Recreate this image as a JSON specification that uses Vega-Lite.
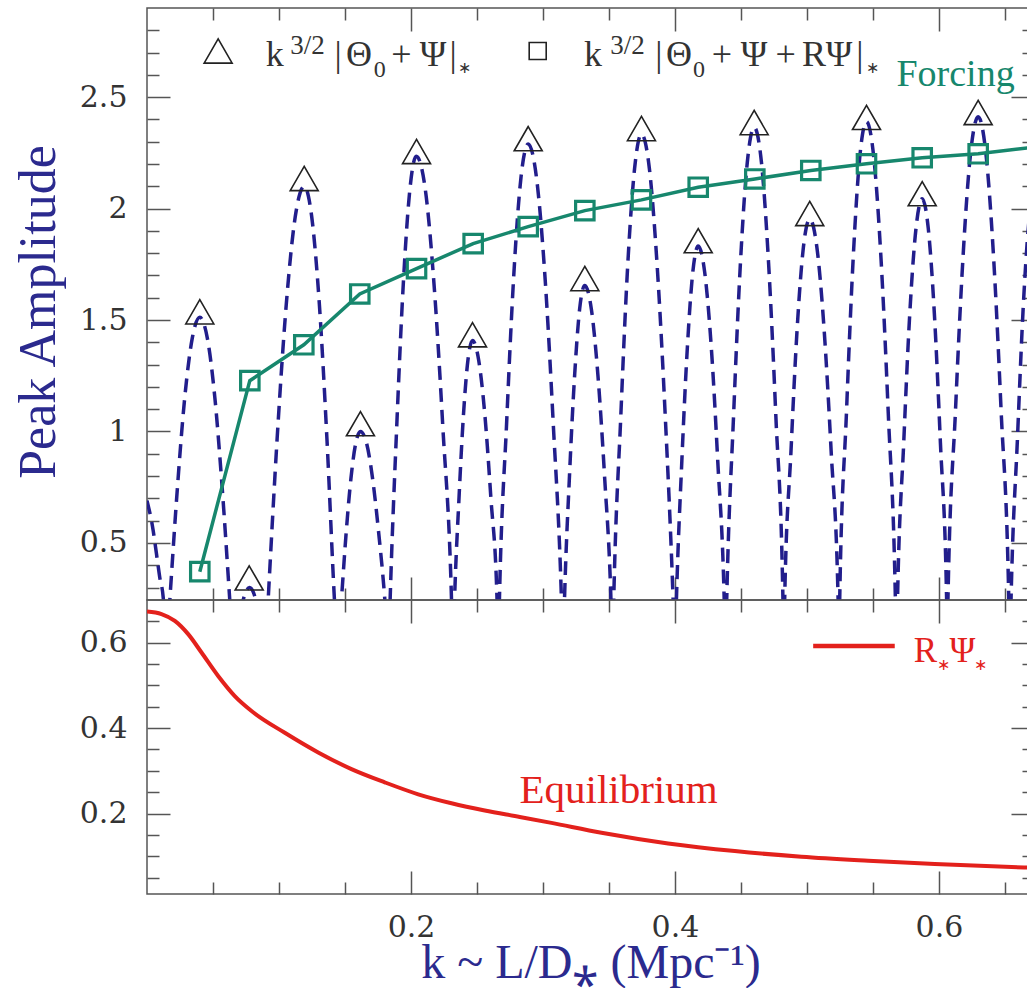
{
  "$schema": "https://vega.github.io/schema/vega-lite/v6.json",
  "padding": {"left": 11, "top": 6, "right": 0, "bottom": 0},
  "background": "white",
  "spacing": 0,
  "bounds": "flush",
  "config": {
    "view": {"stroke": "#555555", "strokeWidth": 1.5},
    "axis": {"grid": false, "domain": false, "tickColor": "#555555", "tickWidth": 1.5, "labels": false, "labelFont": "DejaVu Serif", "labelFontSize": 30, "labelColor": "#333333", "format": "~g"}
  },
  "datasets": {
    "curve": [
      {"k":0.0,"v":0.69},{"k":0.0047,"v":0.555},{"k":0.0072,"v":0.45},{"k":0.0097,"v":0.344},{"k":0.0123,"v":0.254},{"k":0.0146,"v":0},
      {"k":0.0173,"v":0.245},{"k":0.023,"v":0.744},{"k":0.0286,"v":1.152},{"k":0.0343,"v":1.419},{"k":0.04,"v":1.512},{"k":0.0457,"v":1.419},{"k":0.0514,"v":1.152},{"k":0.057,"v":0.744},{"k":0.0627,"v":0.245},{"k":0.0654,"v":0},
      {"k":0.0686,"v":0.115},{"k":0.0716,"v":0.212},{"k":0.0746,"v":0.277},{"k":0.0777,"v":0.3},{"k":0.0807,"v":0.277},{"k":0.0837,"v":0.212},{"k":0.0867,"v":0.115},{"k":0.0896,"v":0},
      {"k":0.0918,"v":0.245},{"k":0.0986,"v":0.969},{"k":0.1055,"v":1.569},{"k":0.1123,"v":1.963},{"k":0.1191,"v":2.1},{"k":0.1248,"v":1.963},{"k":0.1306,"v":1.569},{"k":0.1363,"v":0.969},{"k":0.142,"v":0.245},{"k":0.1443,"v":0},
      {"k":0.1473,"v":0.245},{"k":0.1509,"v":0.547},{"k":0.1545,"v":0.789},{"k":0.1581,"v":0.946},{"k":0.1617,"v":1.0},{"k":0.1664,"v":0.946},{"k":0.1709,"v":0.789},{"k":0.1755,"v":0.547},{"k":0.1802,"v":0.245},{"k":0.183,"v":0},
      {"k":0.1842,"v":0.245},{"k":0.1892,"v":1.023},{"k":0.1942,"v":1.665},{"k":0.1992,"v":2.088},{"k":0.204,"v":2.235},{"k":0.2108,"v":2.088},{"k":0.2174,"v":1.665},{"k":0.2241,"v":1.023},{"k":0.2307,"v":0.245},{"k":0.2318,"v":0},
      {"k":0.233,"v":0.245},{"k":0.2364,"v":0.704},{"k":0.2398,"v":1.079},{"k":0.2432,"v":1.323},{"k":0.2466,"v":1.408},{"k":0.2512,"v":1.323},{"k":0.2559,"v":1.079},{"k":0.2605,"v":0.704},{"k":0.2652,"v":0.245},{"k":0.2661,"v":0},
      {"k":0.267,"v":0.245},{"k":0.2725,"v":1.044},{"k":0.2779,"v":1.704},{"k":0.2833,"v":2.138},{"k":0.2888,"v":2.29},{"k":0.2951,"v":2.138},{"k":0.3014,"v":1.704},{"k":0.3077,"v":1.044},{"k":0.314,"v":0.245},{"k":0.3152,"v":0},
      {"k":0.3163,"v":0.245},{"k":0.3201,"v":0.804},{"k":0.324,"v":1.254},{"k":0.3278,"v":1.551},{"k":0.3317,"v":1.655},{"k":0.3366,"v":1.551},{"k":0.3416,"v":1.254},{"k":0.3466,"v":0.804},{"k":0.3515,"v":0.245},{"k":0.3527,"v":0},
      {"k":0.3536,"v":0.245},{"k":0.3589,"v":1.061},{"k":0.3641,"v":1.735},{"k":0.3694,"v":2.18},{"k":0.3746,"v":2.335},{"k":0.3806,"v":2.18},{"k":0.3866,"v":1.735},{"k":0.3927,"v":1.061},{"k":0.3986,"v":0.245},{"k":0.4,"v":0},
      {"k":0.4011,"v":0.245},{"k":0.4052,"v":0.868},{"k":0.4094,"v":1.379},{"k":0.4135,"v":1.715},{"k":0.4176,"v":1.832},{"k":0.4225,"v":1.715},{"k":0.4275,"v":1.379},{"k":0.4324,"v":0.868},{"k":0.4373,"v":0.245},{"k":0.4383,"v":0},
      {"k":0.4392,"v":0.245},{"k":0.4444,"v":1.072},{"k":0.4496,"v":1.757},{"k":0.4548,"v":2.208},{"k":0.46,"v":2.365},{"k":0.4655,"v":2.208},{"k":0.4709,"v":1.757},{"k":0.4764,"v":1.072},{"k":0.4818,"v":0.245},{"k":0.4824,"v":0},
      {"k":0.4831,"v":0.245},{"k":0.4879,"v":0.913},{"k":0.4926,"v":1.465},{"k":0.4973,"v":1.827},{"k":0.5021,"v":1.953},{"k":0.5075,"v":1.827},{"k":0.5129,"v":1.465},{"k":0.5183,"v":0.913},{"k":0.5236,"v":0.245},{"k":0.5242,"v":0},
      {"k":0.5248,"v":0.245},{"k":0.5299,"v":1.081},{"k":0.535,"v":1.775},{"k":0.54,"v":2.231},{"k":0.5451,"v":2.39},{"k":0.5506,"v":2.231},{"k":0.5561,"v":1.775},{"k":0.5616,"v":1.081},{"k":0.567,"v":0.245},{"k":0.5678,"v":0},
      {"k":0.5686,"v":0.245},{"k":0.5733,"v":0.949},{"k":0.5779,"v":1.53},{"k":0.5826,"v":1.911},{"k":0.5873,"v":2.044},{"k":0.5919,"v":1.911},{"k":0.5965,"v":1.53},{"k":0.6011,"v":0.949},{"k":0.6058,"v":0.245},{"k":0.6063,"v":0},
      {"k":0.6068,"v":0.245},{"k":0.6125,"v":1.091},{"k":0.6183,"v":1.79},{"k":0.624,"v":2.251},{"k":0.6297,"v":2.412},{"k":0.6355,"v":2.251},{"k":0.6413,"v":1.79},{"k":0.6471,"v":1.091},{"k":0.6529,"v":0.245},{"k":0.6537,"v":0},
      {"k":0.6546,"v":0.245},{"k":0.6595,"v":0.973},{"k":0.664,"v":1.576},{"k":0.6686,"v":1.972},{"k":0.6731,"v":2.11}
    ],
    "forcing": [
      {"k":0.04,"v":0.371},{"k":0.0779,"v":1.228},{"k":0.1188,"v":1.389},{"k":0.1612,"v":1.617},{"k":0.2042,"v":1.731},{"k":0.2471,"v":1.843},{"k":0.2888,"v":1.919},{"k":0.3317,"v":1.991},{"k":0.3746,"v":2.039},{"k":0.4176,"v":2.096},{"k":0.4605,"v":2.133},{"k":0.5029,"v":2.171},{"k":0.5451,"v":2.201},{"k":0.5873,"v":2.228},{"k":0.6297,"v":2.246},{"k":0.672,"v":2.276}
    ],
    "forcingPts": [
      {"k":0.04,"v":0.371},{"k":0.0779,"v":1.228},{"k":0.1188,"v":1.389},{"k":0.1612,"v":1.617},{"k":0.2042,"v":1.731},{"k":0.2471,"v":1.843},{"k":0.2888,"v":1.919},{"k":0.3317,"v":1.991},{"k":0.3746,"v":2.039},{"k":0.4176,"v":2.096},{"k":0.4605,"v":2.133},{"k":0.5029,"v":2.171},{"k":0.5451,"v":2.201},{"k":0.5873,"v":2.228},{"k":0.6297,"v":2.246}
    ],
    "peaks": [
      {"k":0.04,"v":1.537},{"k":0.0774,"v":0.343},{"k":0.1191,"v":2.135},{"k":0.1617,"v":1.035},{"k":0.2042,"v":2.256},{"k":0.2466,"v":1.434},{"k":0.2888,"v":2.314},{"k":0.3317,"v":1.686},{"k":0.3746,"v":2.359},{"k":0.4176,"v":1.856},{"k":0.46,"v":2.386},{"k":0.5021,"v":1.978},{"k":0.5451,"v":2.409},{"k":0.5873,"v":2.067},{"k":0.6297,"v":2.431}
    ],
    "eq": [
      {"k":0,"v":0.673},{"k":0.011,"v":0.667},{"k":0.0211,"v":0.651},{"k":0.0312,"v":0.62},{"k":0.0413,"v":0.577},{"k":0.0539,"v":0.522},{"k":0.0665,"v":0.475},{"k":0.0792,"v":0.44},{"k":0.1044,"v":0.389},{"k":0.1297,"v":0.343},{"k":0.1549,"v":0.304},{"k":0.1801,"v":0.273},{"k":0.2055,"v":0.245},{"k":0.2307,"v":0.224},{"k":0.2559,"v":0.207},{"k":0.2824,"v":0.192},{"k":0.3064,"v":0.178},{"k":0.3443,"v":0.155},{"k":0.3948,"v":0.13},{"k":0.4453,"v":0.112},{"k":0.4958,"v":0.0987},{"k":0.5464,"v":0.0894},{"k":0.5968,"v":0.0816},{"k":0.6645,"v":0.0737},{"k":0.672,"v":0.073}
    ],
    "legBig": [
      {"k":0.0968,"v":2.64,"t":"k"},{"k":0.1448,"v":2.64,"t":"|"},{"k":0.1606,"v":2.64,"t":"Θ"},{"k":0.1928,"v":2.64,"t":"+"},{"k":0.2167,"v":2.64,"t":"Ψ"},{"k":0.232,"v":2.64,"t":"|"},
      {"k":0.3379,"v":2.64,"t":"k"},{"k":0.3877,"v":2.64,"t":"|"},{"k":0.403,"v":2.64,"t":"Θ"},{"k":0.4356,"v":2.64,"t":"+"},{"k":0.4598,"v":2.64,"t":"Ψ"},{"k":0.4839,"v":2.64,"t":"+"},{"k":0.5053,"v":2.64,"t":"R"},{"k":0.5242,"v":2.64,"t":"Ψ"},{"k":0.54,"v":2.64,"t":"|"}
    ],
    "legSup": [
      {"k":0.1216,"v":2.694,"t":"3/2"},{"k":0.364,"v":2.694,"t":"3/2"}
    ],
    "legSub": [
      {"k":0.1764,"v":2.59,"t":"0"},{"k":0.4182,"v":2.59,"t":"0"}
    ],
    "legStar": [
      {"k":0.2405,"v":2.608,"t":"∗"},{"k":0.55,"v":2.608,"t":"∗"}
    ]
  },
  "vconcat": [
    {
      "width": 887,
      "height": 592,
      "resolve": {"axis": {"x": "independent", "y": "independent"}},
      "layer": [
        {
          "data": {"name": "curve"},
          "mark": {"type": "line", "clip": true, "stroke": "#221e8c", "strokeWidth": 3.5, "strokeDash": [14, 8], "interpolate": "monotone"},
          "encoding": {
            "x": {"field": "k", "type": "quantitative", "scale": {"domain": [0, 0.672], "nice": false, "zero": false},
                  "axis": {"orient": "bottom", "values": [0.2, 0.4, 0.6], "tickSize": -23, "labels": false, "title": null}},
            "y": {"field": "v", "type": "quantitative", "scale": {"domain": [0.244, 2.9], "nice": false, "zero": false},
                  "axis": {"orient": "left", "values": [0.5, 1, 1.5, 2, 2.5], "tickSize": -23, "labels": true, "labelPadding": 43,
                           "title": "Peak Amplitude", "titleFont": "Liberation Serif", "titleFontSize": 52, "titleFontWeight": "normal", "titleColor": "#2b2a8e",
                           "titleAngle": 270, "titleX": -93, "titleY": 303.5, "titleBaseline": "alphabetic", "titleAlign": "center"}}
          }
        },
        {
          "data": {"name": "forcing"},
          "mark": {"type": "line", "clip": true, "stroke": "#17876d", "strokeWidth": 3.5},
          "encoding": {
            "x": {"field": "k", "type": "quantitative", "scale": {"domain": [0, 0.672], "nice": false, "zero": false},
                  "axis": {"orient": "top", "values": [0.2, 0.4, 0.6], "tickSize": -23, "labels": false, "title": null}},
            "y": {"field": "v", "type": "quantitative", "scale": {"domain": [0.244, 2.9], "nice": false, "zero": false},
                  "axis": {"orient": "right", "values": [0.5, 1, 1.5, 2, 2.5], "tickSize": -23, "labels": false, "title": null}}
          }
        },
        {
          "data": {"name": "forcingPts"},
          "mark": {"type": "point", "shape": "square", "filled": false, "stroke": "#17876d", "strokeWidth": 3.2, "size": 340, "opacity": 1},
          "encoding": {
            "x": {"field": "k", "type": "quantitative", "scale": {"domain": [0, 0.672], "nice": false, "zero": false},
                  "axis": {"orient": "bottom", "values": [0.05, 0.1, 0.15, 0.25, 0.3, 0.35, 0.45, 0.5, 0.55, 0.65], "tickSize": -12, "labels": false, "title": null}},
            "y": {"field": "v", "type": "quantitative", "scale": {"domain": [0.244, 2.9], "nice": false, "zero": false},
                  "axis": {"orient": "left", "values": [0.3, 0.4, 0.6, 0.7, 0.8, 0.9, 1.1, 1.2, 1.3, 1.4, 1.6, 1.7, 1.8, 1.9, 2.1, 2.2, 2.3, 2.4, 2.6, 2.7, 2.8], "tickSize": -12, "labels": false, "title": null}}
          }
        },
        {
          "data": {"name": "peaks"},
          "mark": {"type": "point", "shape": "triangle-up", "filled": false, "stroke": "#222222", "strokeWidth": 1.6, "size": 784, "opacity": 1},
          "encoding": {
            "x": {"field": "k", "type": "quantitative", "scale": {"domain": [0, 0.672], "nice": false, "zero": false},
                  "axis": {"orient": "top", "values": [0.05, 0.1, 0.15, 0.25, 0.3, 0.35, 0.45, 0.5, 0.55, 0.65], "tickSize": -12, "labels": false, "title": null}},
            "y": {"field": "v", "type": "quantitative", "scale": {"domain": [0.244, 2.9], "nice": false, "zero": false},
                  "axis": {"orient": "right", "values": [0.3, 0.4, 0.6, 0.7, 0.8, 0.9, 1.1, 1.2, 1.3, 1.4, 1.6, 1.7, 1.8, 1.9, 2.1, 2.2, 2.3, 2.4, 2.6, 2.7, 2.8], "tickSize": -12, "labels": false, "title": null}}
          }
        },
        {
          "data": {"values": [{"k": 0.0539, "v": 2.707}]},
          "mark": {"type": "point", "shape": "triangle-up", "filled": false, "stroke": "#222222", "strokeWidth": 1.6, "size": 784, "opacity": 1},
          "encoding": {
            "x": {"field": "k", "type": "quantitative", "axis": null},
            "y": {"field": "v", "type": "quantitative", "axis": null}
          }
        },
        {
          "data": {"values": [{"k": 0.296, "v": 2.707}]},
          "mark": {"type": "point", "shape": "square", "filled": false, "stroke": "#222222", "strokeWidth": 1.6, "size": 289, "opacity": 1},
          "encoding": {
            "x": {"field": "k", "type": "quantitative", "axis": null},
            "y": {"field": "v", "type": "quantitative", "axis": null}
          }
        },
        {
          "data": {"name": "legBig"},
          "mark": {"type": "text", "font": "Liberation Serif", "fontSize": 36, "color": "#333333", "align": "center", "baseline": "alphabetic"},
          "encoding": {
            "x": {"field": "k", "type": "quantitative", "axis": null},
            "y": {"field": "v", "type": "quantitative", "axis": null},
            "text": {"field": "t"}
          }
        },
        {
          "data": {"name": "legSup"},
          "mark": {"type": "text", "font": "Liberation Serif", "fontSize": 27, "color": "#333333", "align": "center", "baseline": "alphabetic"},
          "encoding": {
            "x": {"field": "k", "type": "quantitative", "axis": null},
            "y": {"field": "v", "type": "quantitative", "axis": null},
            "text": {"field": "t"}
          }
        },
        {
          "data": {"name": "legSub"},
          "mark": {"type": "text", "font": "Liberation Serif", "fontSize": 24, "color": "#333333", "align": "center", "baseline": "alphabetic"},
          "encoding": {
            "x": {"field": "k", "type": "quantitative", "axis": null},
            "y": {"field": "v", "type": "quantitative", "axis": null},
            "text": {"field": "t"}
          }
        },
        {
          "data": {"name": "legStar"},
          "mark": {"type": "text", "font": "Liberation Serif", "fontSize": 16, "color": "#333333", "align": "center", "baseline": "alphabetic"},
          "encoding": {
            "x": {"field": "k", "type": "quantitative", "axis": null},
            "y": {"field": "v", "type": "quantitative", "axis": null},
            "text": {"field": "t"}
          }
        },
        {
          "data": {"values": [{"k": 0.5678, "v": 2.55, "t": "Forcing"}]},
          "mark": {"type": "text", "font": "Liberation Serif", "fontSize": 38, "color": "#17876d", "align": "left", "baseline": "alphabetic"},
          "encoding": {
            "x": {"field": "k", "type": "quantitative", "axis": null},
            "y": {"field": "v", "type": "quantitative", "axis": null},
            "text": {"field": "t"}
          }
        }
      ]
    },
    {
      "width": 887,
      "height": 294,
      "resolve": {"axis": {"x": "independent", "y": "independent"}},
      "layer": [
        {
          "data": {"name": "eq"},
          "mark": {"type": "line", "clip": true, "stroke": "#e3211c", "strokeWidth": 4, "interpolate": "monotone"},
          "encoding": {
            "x": {"field": "k", "type": "quantitative", "scale": {"domain": [0, 0.672], "nice": false, "zero": false},
                  "axis": {"orient": "bottom", "values": [0.2, 0.4, 0.6], "tickSize": -23, "labels": true, "labelPadding": 41,
                           "title": "k ~ L/D⁎ (Mpc⁻¹)", "titleFont": "Liberation Serif", "titleFontSize": 48, "titleFontWeight": "normal", "titleColor": "#2b2a8e",
                           "titleY": 83, "titleBaseline": "alphabetic"}},
            "y": {"field": "v", "type": "quantitative", "scale": {"domain": [0.0115, 0.7], "nice": false, "zero": false},
                  "axis": {"orient": "left", "values": [0.2, 0.4, 0.6], "tickSize": -23, "labels": true, "labelPadding": 43, "title": null}}
          }
        },
        {
          "data": {"values": [{"k1": 0.5047, "k2": 0.5665, "v": 0.5923}]},
          "mark": {"type": "rule", "stroke": "#e3211c", "strokeWidth": 4.5},
          "encoding": {
            "x": {"field": "k1", "type": "quantitative", "scale": {"domain": [0, 0.672], "nice": false, "zero": false},
                  "axis": {"orient": "top", "values": [0.2, 0.4, 0.6], "tickSize": -23, "labels": false, "title": null}},
            "x2": {"field": "k2"},
            "y": {"field": "v", "type": "quantitative", "scale": {"domain": [0.0115, 0.7], "nice": false, "zero": false},
                  "axis": {"orient": "right", "values": [0.2, 0.4, 0.6], "tickSize": -23, "labels": false, "title": null}}
          }
        },
        {
          "data": {"values": [{"k": 0.2822, "v": 0.2256, "t": "Equilibrium"}]},
          "mark": {"type": "text", "font": "Liberation Serif", "fontSize": 41, "color": "#e3211c", "align": "left", "baseline": "alphabetic"},
          "encoding": {
            "x": {"field": "k", "type": "quantitative", "scale": {"domain": [0, 0.672], "nice": false, "zero": false},
                  "axis": {"orient": "bottom", "values": [0.05, 0.1, 0.15, 0.25, 0.3, 0.35, 0.45, 0.5, 0.55, 0.65], "tickSize": -12, "labels": false, "title": null}},
            "y": {"field": "v", "type": "quantitative", "scale": {"domain": [0.0115, 0.7], "nice": false, "zero": false},
                  "axis": {"orient": "left", "values": [0.05, 0.1, 0.15, 0.25, 0.3, 0.35, 0.45, 0.5, 0.55, 0.65], "tickSize": -12, "labels": false, "title": null}},
            "text": {"field": "t"}
          }
        },
        {
          "data": {"values": [{"k": 0.5898, "v": 0.5549, "t": "R"}, {"k": 0.6178, "v": 0.5549, "t": "Ψ"}]},
          "mark": {"type": "text", "font": "Liberation Serif", "fontSize": 35, "color": "#e3211c", "align": "center", "baseline": "alphabetic"},
          "encoding": {
            "x": {"field": "k", "type": "quantitative", "scale": {"domain": [0, 0.672], "nice": false, "zero": false},
                  "axis": {"orient": "top", "values": [0.05, 0.1, 0.15, 0.25, 0.3, 0.35, 0.45, 0.5, 0.55, 0.65], "tickSize": -12, "labels": false, "title": null}},
            "y": {"field": "v", "type": "quantitative", "scale": {"domain": [0.0115, 0.7], "nice": false, "zero": false},
                  "axis": {"orient": "right", "values": [0.05, 0.1, 0.15, 0.25, 0.3, 0.35, 0.45, 0.5, 0.55, 0.65], "tickSize": -12, "labels": false, "title": null}},
            "text": {"field": "t"}
          }
        },
        {
          "data": {"values": [{"k": 0.6036, "v": 0.5355, "t": "∗"}, {"k": 0.6318, "v": 0.5355, "t": "∗"}]},
          "mark": {"type": "text", "font": "Liberation Serif", "fontSize": 16, "color": "#e3211c", "align": "center", "baseline": "alphabetic"},
          "encoding": {
            "x": {"field": "k", "type": "quantitative", "axis": null},
            "y": {"field": "v", "type": "quantitative", "axis": null},
            "text": {"field": "t"}
          }
        }
      ]
    }
  ]
}
